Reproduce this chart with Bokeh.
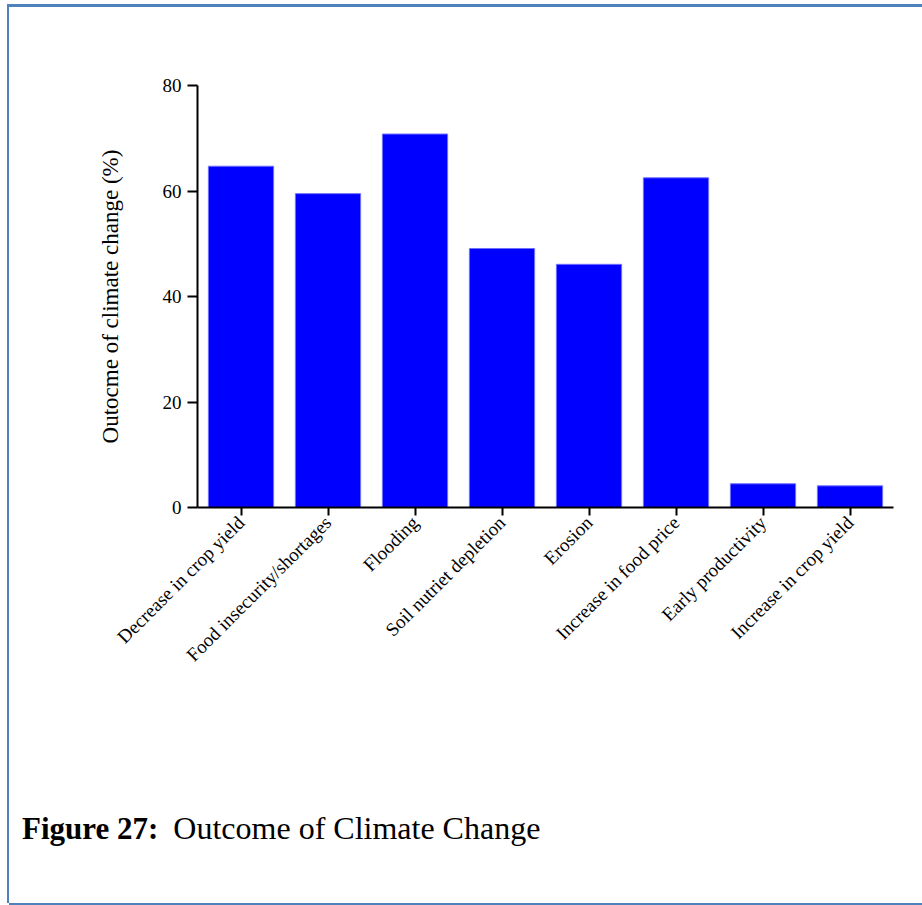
from bokeh.plotting import figure
from bokeh.layouts import column
from bokeh.models import (ColumnDataSource, FactorRange, Range1d, FixedTicker,
                          Div)
from bokeh.embed import file_html
from bokeh.resources import INLINE
from math import pi

# Reported outcomes of climate change (% of respondents)
outcomes = [
    "Decrease in crop yield",
    "Food insecurity/shortages",
    "Flooding",
    "Soil nutriet depletion",
    "Erosion",
    "Increase in food price",
    "Early productivity",
    "Increase in crop yield",
]
percent = [64.7, 59.5, 70.8, 49.1, 46.1, 62.5, 4.5, 4.1]
y_ticks = [0, 20, 40, 60, 80]

source = ColumnDataSource(data=dict(outcome=outcomes, percent=percent))

p = figure(
    x_range=FactorRange(*outcomes, range_padding=0),
    y_range=Range1d(0, 80),
    width=913, height=801,
    min_border_left=188, min_border_right=29,
    min_border_top=78, min_border_bottom=301,
    output_backend="svg", toolbar_location=None,
)

p.vbar(x="outcome", top="percent", width=0.75, source=source,
       fill_color="#0000FF", line_color="#7070FF", line_width=1)

p.xgrid.visible = False
p.ygrid.visible = False
p.outline_line_color = None

serif = "Liberation Serif"

for ax in (p.xaxis[0], p.yaxis[0]):
    ax.axis_line_width = 2
    ax.axis_line_color = "black"
    ax.major_tick_line_width = 2
    ax.major_tick_line_color = "black"
    ax.major_tick_in = 0
    ax.minor_tick_line_color = None
    ax.major_label_text_font = serif
    ax.major_label_text_color = "black"
    ax.major_label_text_font_size = "19px"

p.yaxis.ticker = FixedTicker(ticks=y_ticks)
p.yaxis.major_tick_out = 10
p.yaxis.major_label_standoff = 6
p.yaxis.axis_label = "Outocme of climate change (%)"
p.yaxis.axis_label_text_font = serif
p.yaxis.axis_label_text_font_style = "normal"
p.yaxis.axis_label_text_font_size = "23px"
p.yaxis.axis_label_text_color = "black"
p.yaxis.axis_label_standoff = 37

p.xaxis.major_tick_out = 8
p.xaxis.major_label_orientation = pi / 4
p.xaxis.major_label_standoff = 4

# Figure caption
caption = Div(
    text=('<div style="padding-left:8px; white-space:nowrap">'
          '<b>Figure 27:</b>'
          '<span style="margin-left:15px; font-size:32px">Outcome of Climate Change</span>'
          '</div>'),
    width=913, height=95,
    styles={
        "font-family": serif,
        "font-size": "31px",
        "line-height": "31px",
        "color": "black",
    },
)

# Blue frame on the left, top and bottom of the whole panel
page = column(p, caption, spacing=0, width=913, height=896, styles={
    "margin-left": "9px",
    "margin-top": "7px",
    "box-shadow": ("-2px 0 0 0 #4F81BD, 0 -3px 0 0 #4F81BD, "
                   "-2px -3px 0 0 #4F81BD, 0 2px 0 0 #4F81BD"),
})

open("out.html", "w").write(file_html(page, INLINE))
